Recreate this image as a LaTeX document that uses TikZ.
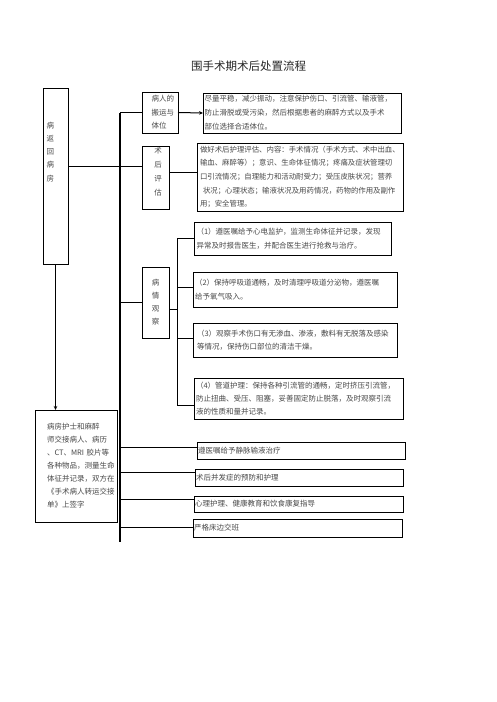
\documentclass[tikz,border=0pt]{standalone}
\usepackage{fontspec}
\newfontfamily\cjk{Noto Sans CJK SC}
\usetikzlibrary{calc,arrows.meta}
\definecolor{txtc}{RGB}{72,72,72}
\begin{document}
\begin{tikzpicture}[x=1pt,y=-1pt,
  box/.style={draw=black,line width=1pt,inner ysep=0pt,outer sep=0pt,
    font=\cjk\fontsize{7.5}{14}\selectfont,text=txtc,align=left,anchor=north west},
  lbl/.style={inner sep=0pt,text=txtc,align=center},
  conn/.style={draw=black,line width=1pt},
  trunk/.style={draw=black,line width=1.6pt},
  arr/.style={conn,-{Stealth[length=4pt,width=3.5pt]}}
]
\useasboundingbox[fill=white] (0,0) rectangle (496,702);

% title
\node[font=\cjk\fontsize{11.5}{12}\selectfont,text=black!85] (title) at (248.5,66) {围手术期术后处置流程};

% left column
\node[box,minimum width=25,minimum height=176] (L1) at (43,88) {};
\node[lbl,anchor=north west,font=\cjk\fontsize{7.5}{13.3}\selectfont] (L1t) at ($(L1.north west)+(3.5,33.5)$) {病\\返\\回\\病\\房};
\node[box,minimum width=82,minimum height=112,inner xsep=12,text width=58,
  font=\cjk\fontsize{7.5}{13}\selectfont] (L2) at (35,410)
  {病房护士和麻醉\\师交接病人、病历\\\mbox{、CT、MRI 胶片等}\\各种物品，测量生命\\体征并记录，双方在\\《手术病人转运交接\\单》上签字};

% middle column
\node[box,minimum height=41,inner xsep=9.5,text width=17,
  font=\cjk\fontsize{7.5}{13.5}\selectfont] (B1) at (142,92) {病人的\\搬运与\\体位};
\node[box,minimum width=27,minimum height=63] (B2) at (142,146) {};
\node[lbl,anchor=north,font=\cjk\fontsize{7.5}{14}\selectfont] (B2t) at ($(B2.north)+(2.5,1.5)$) {术\\后\\评\\估};
\node[box,minimum width=27,minimum height=71,align=center,
  font=\cjk\fontsize{7.5}{13}\selectfont] (B3) at (142,267) {病\\情\\观\\察};

% right column
\node[box,minimum height=40,inner xsep=1.5,text width=195] (R1) at (203,93)
  {尽量平稳，减少振动，注意保护伤口、引流管、输液管，\\防止滑脱或受污染，然后根据患者的麻醉方式以及手术\\部位选择合适体位。};
\node[box,minimum height=68,inner xsep=3,text width=200,
  font=\cjk\fontsize{7.4}{13.7}\selectfont] (R2) at (197,143)
  {做好术后护理评估、内容：手术情况（手术方式、术中出血、\\输血、麻醉等）；意识、生命体征情况；疼痛及症状管理切\\口引流情况；自理能力和活动耐受力；受压皮肤状况；营养\\\hspace*{3pt}状况；心理状态；输液状况及用药情况，药物的作用及副作\\用；安全管理。};

\node[box,minimum height=33,inner xsep=2.5,text width=192] (P1) at (194,222)
  {（1）遵医嘱给予心电监护，监测生命体征并记录，发现\\异常及时报告医生，并配合医生进行抢救与治疗。};
\node[box,minimum height=35,inner xsep=2,text width=200] (P2) at (193,272)
  {（2）保持呼吸道通畅，及时清理呼吸道分泌物，遵医嘱\\给予氧气吸入。};
\node[box,minimum height=34,inner xsep=4,text width=196,
  font=\cjk\fontsize{7.5}{13}\selectfont] (P3) at (193,323)
  {（3）观察手术伤口有无渗血、渗液，敷料有无脱落及感染\\等情况，保持伤口部位的清洁干燥。};
\node[box,minimum height=41,inner xsep=2,text width=205,
  font=\cjk\fontsize{7.5}{13}\selectfont] (P4) at (194,378)
  {（4）管道护理：保持各种引流管的通畅，定时挤压引流管，\\防止扭曲、受压、阻塞，妥善固定防止脱落，及时观察引流\\液的性质和量并记录。};

\node[box,minimum height=17,inner xsep=1,text width=206] (A) at (197,442) {遵医嘱给予静脉输液治疗};
\node[box,minimum height=17,inner xsep=1,text width=206] (B) at (195,469) {术后并发症的预防和护理};
\node[box,minimum height=16,inner xsep=1,text width=207] (C) at (194,496) {心理护理、健康教育和饮食康复指导};
\node[box,minimum height=18,inner xsep=1,text width=207] (D) at (193,519) {严格床边交班};

% main trunk
\coordinate (Tbot) at (120,542);
\coordinate (Ttop) at (B1.west -| Tbot);
\draw[trunk] (Ttop) -- (Tbot);
\draw[conn] (Ttop) -- (B1.west);
\draw[arr] (B1.east) -- (R1.west);

% left box to evaluation
\coordinate (h1) at ($(L1.north east)+(0,78)$);
\draw[conn] (h1) -- (h1 -| B2.west);
\coordinate (h2) at ($(B2.north east)+(0,26)$);
\draw[conn] (h2) -- (h2 -| R2.west);

% left box down arrow
\draw[arr] (L1.south) -- (L1.south |- L2.north);

% observation
\draw[conn] (B3.west -| Tbot) -- (B3.west);
\coordinate (U0) at (P1.west -| 177,0);
\coordinate (U1) at (177,405);
\draw[conn] (U0) -- (U1);
\coordinate (h3) at ($(B3.north east)+(0,42)$);
\draw[conn] (h3) -- (h3 -| U0);
\draw[conn] (U0) -- (P1.west);
\coordinate (u2) at (177,287);
\draw[conn] (u2) -- (u2 -| P2.west);
\coordinate (u3) at (177,338);
\draw[conn] (u3) -- (u3 -| P3.west);
\draw[conn] (U1) -- (U1 -| P4.west);

% bottom branches
\coordinate (a1) at ($(A.north west)+(0,5)$);
\draw[conn] (a1 -| Tbot) -- (a1);
\coordinate (b1) at ($(B.north west)+(0,3)$);
\draw[conn] (b1 -| Tbot) -- (b1);
\coordinate (c1) at ($(C.north west)+(0,3)$);
\draw[conn] (c1 -| Tbot) -- (c1);
\coordinate (d1) at ($(D.north west)+(0,8)$);
\draw[conn] (d1 -| Tbot) -- (d1);
\end{tikzpicture}
\end{document}
